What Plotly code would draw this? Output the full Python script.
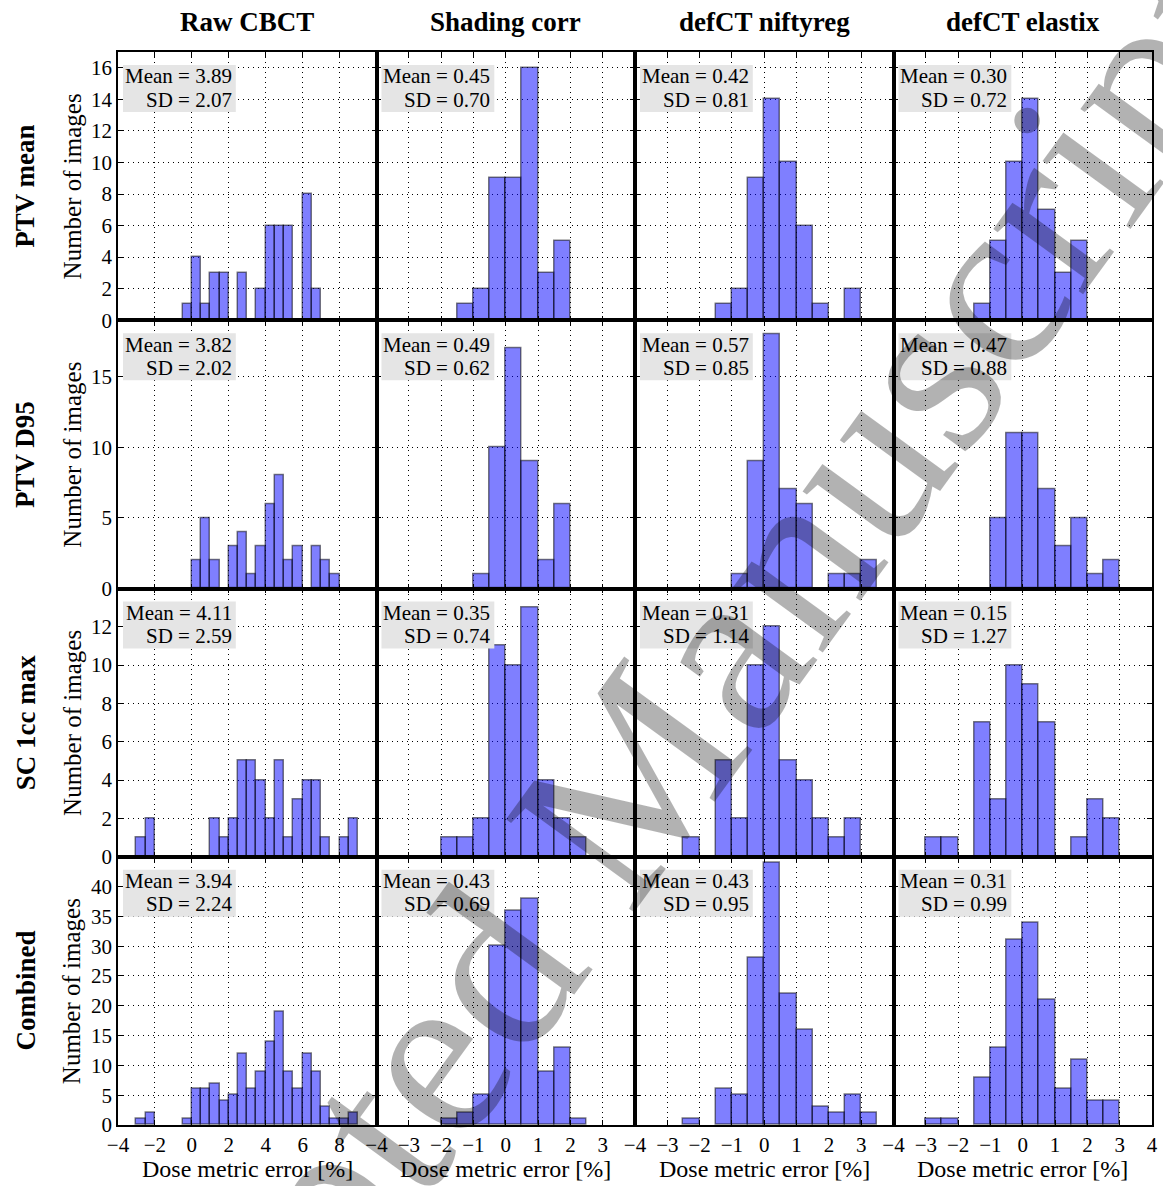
import plotly.graph_objects as go
from plotly.subplots import make_subplots

col_titles = ["Raw CBCT", "Shading corr", "defCT niftyreg", "defCT elastix"]
row_titles = ["PTV mean", "PTV D95", "SC 1cc max", "Combined"]
x_label = "Dose metric error [%]"
y_label = "Number of images"
watermark = "Accepted Manuscript"

# histogram bin left edges (bin width 0.5 %)
raw_bin_left = [-3.0, -2.5, -2.0, -1.5, -1.0, -0.5, 0.0, 0.5, 1.0, 1.5, 2.0, 2.5,
                3.0, 3.5, 4.0, 4.5, 5.0, 5.5, 6.0, 6.5, 7.0, 7.5, 8.0, 8.5]
corr_bin_left = [-3.0, -2.5, -2.0, -1.5, -1.0, -0.5, 0.0, 0.5, 1.0, 1.5, 2.0, 2.5, 3.0]
bin_width = 0.5

# Raw CBCT
raw_ptv_mean = [0, 0, 0, 0, 0, 1, 4, 1, 3, 3, 0, 3, 0, 2, 6, 6, 6, 0, 8, 2, 0, 0, 0, 0]
raw_ptv_d95 = [0, 0, 0, 0, 0, 0, 2, 5, 2, 0, 3, 4, 1, 3, 6, 8, 2, 3, 0, 3, 2, 1, 0, 0]
raw_sc_max = [1, 2, 0, 0, 0, 0, 0, 0, 2, 1, 2, 5, 5, 4, 2, 5, 1, 3, 4, 4, 1, 0, 1, 2]
raw_combined = [1, 2, 0, 0, 0, 1, 6, 6, 7, 4, 5, 12, 6, 9, 14, 19, 9, 6, 12, 9, 3, 1, 1, 2]

# Shading corr
shd_ptv_mean = [0, 0, 0, 1, 2, 9, 9, 16, 3, 5, 0, 0, 0]
shd_ptv_d95 = [0, 0, 0, 0, 1, 10, 17, 9, 2, 6, 0, 0, 0]
shd_sc_max = [0, 0, 1, 1, 2, 11, 10, 13, 4, 2, 1, 0, 0]
shd_combined = [0, 0, 1, 2, 5, 30, 36, 38, 9, 13, 1, 0, 0]

# defCT niftyreg
nif_ptv_mean = [0, 0, 0, 1, 2, 9, 14, 10, 6, 1, 0, 2, 0]
nif_ptv_d95 = [0, 0, 0, 0, 1, 9, 18, 7, 6, 0, 1, 1, 2]
nif_sc_max = [0, 1, 0, 5, 2, 10, 12, 5, 4, 2, 1, 2, 0]
nif_combined = [0, 1, 0, 6, 5, 28, 44, 22, 16, 3, 2, 5, 2]

# defCT elastix
ela_ptv_mean = [0, 0, 0, 1, 5, 10, 14, 7, 3, 5, 0, 0, 0]
ela_ptv_d95 = [0, 0, 0, 0, 5, 11, 11, 7, 3, 5, 1, 2, 0]
ela_sc_max = [1, 1, 0, 7, 3, 10, 9, 7, 0, 1, 3, 2, 0]
ela_combined = [1, 1, 0, 8, 13, 31, 34, 21, 6, 11, 4, 4, 0]

mean_raw = [3.89, 3.82, 4.11, 3.94]
mean_shd = [0.45, 0.49, 0.35, 0.43]
mean_nif = [0.42, 0.57, 0.31, 0.43]
mean_ela = [0.30, 0.47, 0.15, 0.31]
sd_raw = [2.07, 2.02, 2.59, 2.24]
sd_shd = [0.70, 0.62, 0.74, 0.69]
sd_nif = [0.81, 0.85, 1.14, 0.95]
sd_ela = [0.72, 0.88, 1.27, 0.99]

y_max = [17, 19, 14, 45]
y_ticks = [list(range(0, 17, 2)), list(range(0, 16, 5)), list(range(0, 13, 2)), list(range(0, 41, 5))]

columns = [
    (raw_bin_left, [raw_ptv_mean, raw_ptv_d95, raw_sc_max, raw_combined], mean_raw, sd_raw),
    (corr_bin_left, [shd_ptv_mean, shd_ptv_d95, shd_sc_max, shd_combined], mean_shd, sd_shd),
    (corr_bin_left, [nif_ptv_mean, nif_ptv_d95, nif_sc_max, nif_combined], mean_nif, sd_nif),
    (corr_bin_left, [ela_ptv_mean, ela_ptv_d95, ela_sc_max, ela_combined], mean_ela, sd_ela),
]

FONT = "Liberation Serif"
L, R, T, B = 118, 5, 52, 61
W, H = 1163, 1186
pw, ph = W - L - R, H - T - B
cell_w, cell_h = pw / 4, ph / 4


def px_x(p):
    return (p - L) / pw


def px_y(p):
    return (H - B - p) / ph


fig = make_subplots(rows=4, cols=4, horizontal_spacing=0, vertical_spacing=0)

annotations = []
shapes = []
for c, (bins, rows, means, sds) in enumerate(columns):
    for r in range(4):
        counts = rows[r]
        xs = [b + bin_width / 2 for b, n in zip(bins, counts) if n > 0]
        ys = [n for n in counts if n > 0]
        fig.add_trace(go.Bar(
            x=xs, y=ys, width=bin_width,
            marker=dict(color="rgba(0,0,255,0.5)",
                        line=dict(color="rgba(0,0,0,0.5)", width=1.5)),
            hoverinfo="x+y"), row=r + 1, col=c + 1)
        if c == 0:
            xr, xt = [-4, 10], list(range(-4, 9, 2))
        elif c < 3:
            xr, xt = [-4, 4], list(range(-4, 4))
        else:
            xr, xt = [-4, 4], list(range(-4, 5))
        fig.update_xaxes(range=xr, tickvals=xt, showticklabels=(r == 3),
                         row=r + 1, col=c + 1)
        fig.update_yaxes(range=[0, y_max[r]], tickvals=y_ticks[r],
                         showticklabels=(c == 0), row=r + 1, col=c + 1)
        idx = r * 4 + c + 1
        ax = "x" if idx == 1 else f"x{idx}"
        ay = "y" if idx == 1 else f"y{idx}"
        # stats box
        shapes.append(dict(type="rect", xref=f"{ax} domain", yref=f"{ay} domain",
                           x0=5 / cell_w, x1=118.5 / cell_w,
                           y0=1 - 60 / cell_h, y1=1 - 13 / cell_h,
                           fillcolor="#e5e5e5", line=dict(width=0), layer="above"))
        annotations.append(dict(
            xref=f"{ax} domain", yref=f"{ay} domain", x=116.5 / cell_w, y=1 - 24.5 / cell_h,
            xanchor="right", yanchor="middle", showarrow=False,
            text=f"Mean = {means[r]:.2f}",
            font=dict(family=FONT, size=21, color="black")))
        annotations.append(dict(
            xref=f"{ax} domain", yref=f"{ay} domain", x=116.5 / cell_w, y=1 - 47.5 / cell_h,
            xanchor="right", yanchor="middle", showarrow=False,
            text=f"SD = {sds[r]:.2f}",
            font=dict(family=FONT, size=21, color="black")))

common_axis = dict(showline=True, linecolor="black", linewidth=1.5, mirror="ticks",
                   ticks="inside", ticklen=5, tickwidth=1, tickcolor="black",
                   showgrid=True, gridcolor="black", gridwidth=1, griddash="1px,4px",
                   zeroline=False, tickfont=dict(family=FONT, size=21, color="black"))
fig.update_xaxes(**common_axis)
fig.update_yaxes(**common_axis)

for c, t in enumerate(col_titles):
    annotations.append(dict(xref="paper", yref="paper", x=(c + 0.5) / 4, y=px_y(22),
                            xanchor="center", yanchor="middle", showarrow=False,
                            text=f"<b>{t}</b>", font=dict(family=FONT, size=27, color="black")))
    annotations.append(dict(xref="paper", yref="paper", x=(c + 0.5) / 4, y=px_y(1169),
                            xanchor="center", yanchor="middle", showarrow=False,
                            text=x_label, font=dict(family=FONT, size=24, color="black")))
for r, t in enumerate(row_titles):
    yc = 1 - (r + 0.5) / 4
    annotations.append(dict(xref="paper", yref="paper", x=px_x(25), y=yc,
                            xanchor="center", yanchor="middle", showarrow=False, textangle=-90,
                            text=f"<b>{t}</b>", font=dict(family=FONT, size=27, color="black")))
    annotations.append(dict(xref="paper", yref="paper", x=px_x(72), y=yc,
                            xanchor="center", yanchor="middle", showarrow=False, textangle=-90,
                            text=y_label, font=dict(family=FONT, size=25, color="black")))

# watermark
annotations.append(dict(xref="paper", yref="paper", x=px_x(604), y=px_y(818),
                        xanchor="center", yanchor="middle", showarrow=False, textangle=-54,
                        text=watermark,
                        font=dict(family=FONT, size=242, color="rgba(0,0,0,0.3)")))

fig.update_layout(width=W, height=H, margin=dict(l=L, r=R, t=T, b=B),
                  plot_bgcolor="white", paper_bgcolor="white", showlegend=False,
                  bargap=0, annotations=annotations, shapes=shapes,
                  font=dict(family=FONT, color="black"))

fig.write_html("out.html", config={"displayModeBar": False},
               post_script="document.body.style.margin='0';document.body.style.overflow='hidden';")
